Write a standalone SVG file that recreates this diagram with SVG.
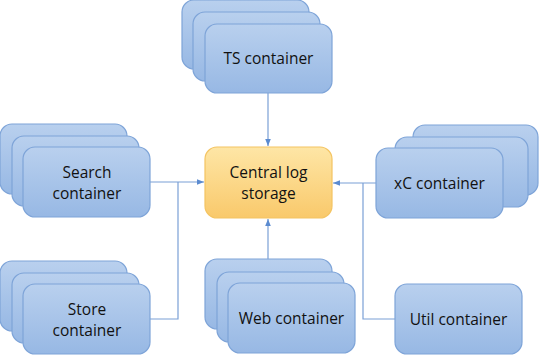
<svg xmlns="http://www.w3.org/2000/svg" width="540" height="356" viewBox="0 0 540 356">
<style>
.n{fill:url(#gb);stroke:#7EA4D8;stroke-width:1.2}
.c{fill:url(#go);stroke:#F4C462;stroke-width:1.2}
.t{font-family:"Open Sans","Liberation Sans",Arial,sans-serif;font-size:15.5px;fill:#111;text-anchor:middle}
.e{fill:none;stroke:#7BA0D6;stroke-width:1.2}
</style>
<defs>
<linearGradient id="gb" x1="0" y1="0" x2="0" y2="1"><stop offset="0" stop-color="#B9D0EE"/><stop offset="1" stop-color="#97B8E4"/></linearGradient>
<linearGradient id="go" x1="0" y1="0" x2="0" y2="1"><stop offset="0" stop-color="#FEE6A6"/><stop offset="1" stop-color="#F9C96B"/></linearGradient>
<marker id="a" viewBox="0 0 10 10" refX="10" refY="5" markerWidth="7" markerHeight="7" orient="auto" markerUnits="userSpaceOnUse"><path d="M0,1 L10,5 L0,9 z" fill="#5B8BD0"/></marker>
</defs>
<g id="connectors">
<path class="e" d="M268,93 V146" marker-end="url(#a)"/>
<path class="e" d="M150,182 H204" marker-end="url(#a)"/>
<path class="e" d="M150,319 H178 V182"/>
<path class="e" d="M268,259 V219" marker-end="url(#a)"/>
<path class="e" d="M376,183 H333" marker-end="url(#a)"/>
<path class="e" d="M395,319 H363 V183"/>
</g>
<g id="ts">
<rect class="n" x="182" y="0" width="127" height="69" rx="12"/>
<rect class="n" x="193" y="12" width="127" height="69" rx="12"/>
<rect class="n" x="205" y="24" width="127" height="69" rx="12"/>
<text class="t" x="268.5" y="64">TS container</text>
</g>
<g id="search">
<rect class="n" x="0" y="124" width="127" height="70" rx="12"/>
<rect class="n" x="12" y="136" width="127" height="70" rx="12"/>
<rect class="n" x="23" y="147" width="127" height="70" rx="12"/>
<text class="t" x="87" y="178">Search</text>
<text class="t" x="87" y="199">container</text>
</g>
<g id="central">
<rect class="c" x="205" y="147" width="127" height="71" rx="12"/>
<text class="t" x="268.5" y="178">Central log</text>
<text class="t" x="268.5" y="199">storage</text>
</g>
<g id="xc">
<rect class="n" x="413" y="125" width="125" height="70" rx="12"/>
<rect class="n" x="395" y="137" width="133" height="70" rx="12"/>
<rect class="n" x="376" y="148" width="127" height="70" rx="12"/>
<text class="t" x="439.5" y="189">xC container</text>
</g>
<g id="store">
<rect class="n" x="0" y="261" width="127" height="70" rx="12"/>
<rect class="n" x="12" y="273" width="127" height="70" rx="12"/>
<rect class="n" x="23" y="284" width="127" height="70" rx="12"/>
<text class="t" x="87" y="315">Store</text>
<text class="t" x="87" y="336">container</text>
</g>
<g id="web">
<rect class="n" x="205" y="259" width="127" height="70" rx="12"/>
<rect class="n" x="217" y="272" width="127" height="70" rx="12"/>
<rect class="n" x="228" y="283" width="127" height="70" rx="12"/>
<text class="t" x="291.5" y="324">Web container</text>
</g>
<g id="util">
<rect class="n" x="395" y="284" width="127" height="70" rx="12"/>
<text class="t" x="458.5" y="325">Util container</text>
</g>
</svg>
